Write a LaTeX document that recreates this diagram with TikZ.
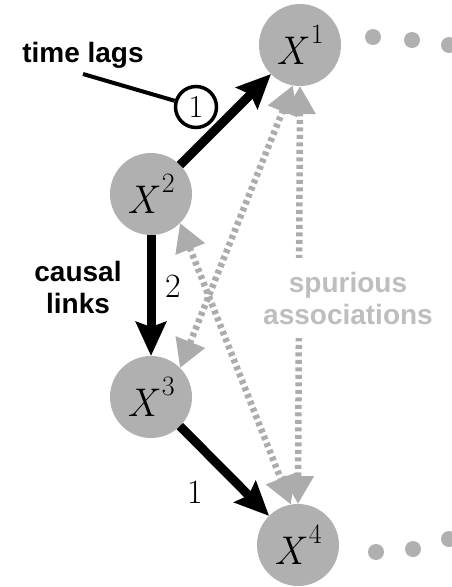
\documentclass[tikz,border=0pt]{standalone}
\usepackage{fontspec}
\setsansfont{Liberation Sans}
\usetikzlibrary{arrows.meta}
\definecolor{nodegray}{RGB}{176,176,176}
\definecolor{dashgray}{RGB}{172,172,172}
\definecolor{textgray}{RGB}{190,190,190}
\newcommand{\varlab}[1]{\textit{X}\kern2pt\raisebox{21pt}{\fontsize{28}{30}\selectfont #1}}
\begin{document}
\begin{tikzpicture}[x=1pt,y=-1pt,
  var/.style={circle,fill=nodegray,minimum size=82pt,inner sep=0pt,outer sep=0pt,font=\fontsize{40}{44}\selectfont},
  dotnode/.style={circle,fill=nodegray,minimum size=16pt,inner sep=0pt},
  causal/.style={line width=9pt,-{Stealth[length=34pt,width=30pt,inset=5pt]}},
  spur/.style={dashgray,line width=6.5pt,dash pattern=on 4pt off 3.5pt,{Triangle[length=28pt,width=30pt]}-{Triangle[length=28pt,width=30pt]}},
  lbl/.style={font=\fontsize{34}{36}\selectfont},
  boldtext/.style={font=\sffamily\bfseries\fontsize{28}{32}\selectfont,align=center,inner sep=0pt}
]
\useasboundingbox (0,0) rectangle (452,587);
% variable nodes
\node[var] (x1) at (300,45) {\varlab{1}};
\node[var] (x2) at (151,194) {\varlab{2}};
\node[var] (x3) at (151,397) {\varlab{3}};
\node[var] (x4) at (298,545) {\varlab{4}};
% dots
\node[dotnode] (a1) at (373,37) {};
\node[dotnode] (a2) at (412,40) {};
\node[dotnode] (a3) at (449,45) {};
\node[dotnode] (b1) at (376,552) {};
\node[dotnode] (b2) at (413,549) {};
\node[dotnode] (b3) at (449,539) {};
% spurious associations
\draw[spur] (x1.-100) -- (x3.45);
\draw[spur] (x2.-45) -- (x4.100);
\draw[spur] (x1.-90) -- (x4.90);
\node[boldtext,textgray,fill=white,inner ysep=14pt,inner xsep=2pt] (sp) at (348,298) {spurious\\associations};
% causal links
\draw[causal] (x2) -- (x1);
\draw[causal] (x2) -- (x3);
\draw[causal] (x3) -- (x4);
\node[lbl] (l2) at (173,286) {2};
\node[lbl] (l3) at (195,492) {1};
% time lags annotation
\node[circle,draw,line width=3.5pt,minimum size=41pt,inner sep=0pt,fill=white,font=\fontsize{32}{34}\selectfont] (c1) at (196,107) {1};
\coordinate (tl) at (83,74);
\draw[line width=4pt] (tl) -- (c1);
\node[boldtext,anchor=base] (tlag) at (83,62) {time lags};
\node[boldtext] (cl) at (78,287) {causal\\links};
\end{tikzpicture}
\end{document}
